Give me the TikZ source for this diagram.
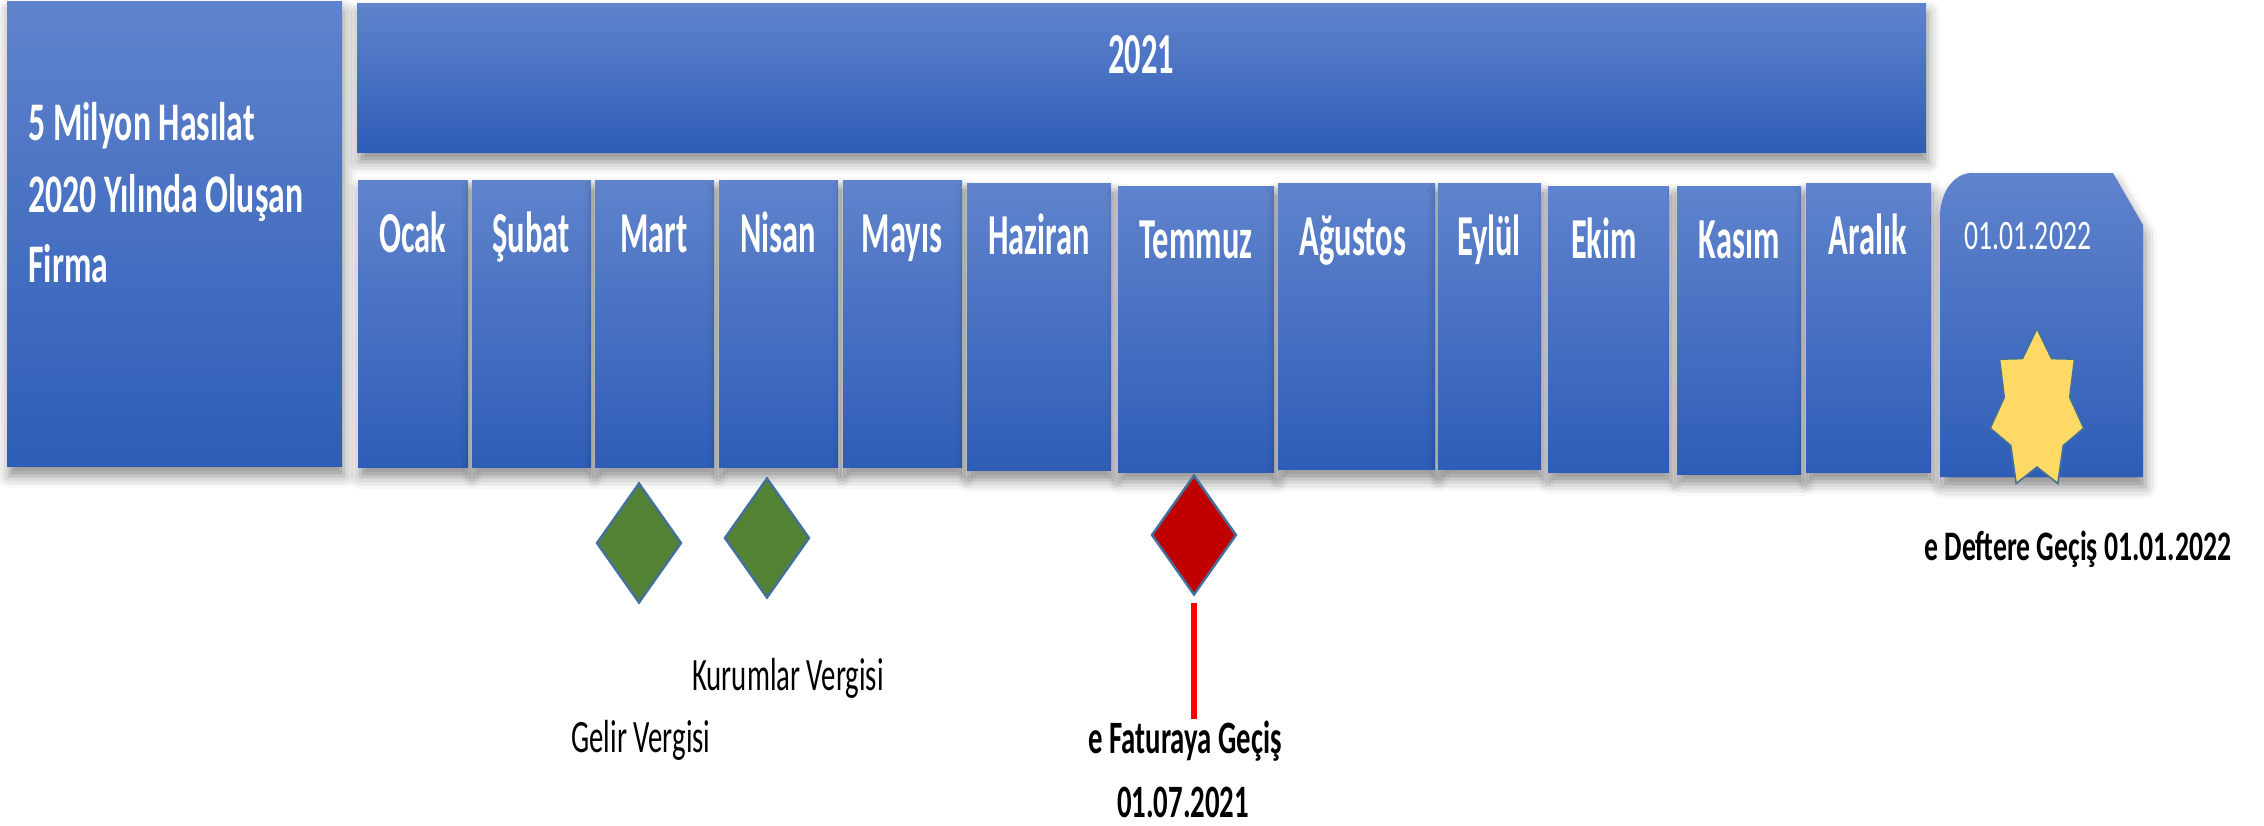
\documentclass[tikz,border=0pt]{standalone}
\usepackage{fontspec}
\setmainfont{Carlito}
\newfontfamily\monthfont[FakeStretch=0.56]{Carlito}
\newfontfamily\notefont[FakeStretch=0.62]{Carlito}
\newfontfamily\datefont[FakeStretch=0.66]{Carlito}
\usepackage{tikz}
\usetikzlibrary{shapes.geometric,fit,shadows.blur}
\definecolor{boxtop}{RGB}{96,131,204}
\definecolor{boxmid}{RGB}{64,113,203}
\definecolor{boxbot}{RGB}{46,93,183}
\definecolor{edgeblue}{RGB}{65,113,156}
\definecolor{leafgreen}{RGB}{84,130,53}
\definecolor{darkred}{RGB}{192,0,0}
\definecolor{stargold}{RGB}{255,217,102}
\tikzset{every picture/.style={line width=0.75pt}}
\tikzset{
  bluebox/.style={inner sep=0pt, top color=boxtop, middle color=boxmid, bottom color=boxbot,
    blur shadow={shadow xshift=0.5pt, shadow yshift=-2.5pt, shadow blur radius=3pt, shadow opacity=45}},
  monthtext/.style={anchor=base, inner sep=0pt, text=white, font=\monthfont\bfseries\fontsize{14.5}{17}\selectfont},
  sidetext/.style={anchor=base west, inner sep=0pt, text=white, font=\notefont\bfseries\fontsize{13.6}{17}\selectfont},
  notetext/.style={anchor=base, inner sep=0pt, text=black, font=\notefont\fontsize{11.6}{14}\selectfont},
  marker/.style={diamond, draw=edgeblue, line width=0.6pt, inner sep=0pt, minimum width=21.25pt, minimum height=30pt}
}

\begin{document}
\begin{tikzpicture}[x=0.25pt,y=0.25pt,yscale=-1,xscale=1]
\useasboundingbox (0,0) rectangle (2264,826);

%Shape: Rectangle [left]
\node[bluebox, fit={(7,1) (342,466)}] (firma) {};
%Shape: Rectangle [year]
\node[bluebox, fit={(357,3) (1926,152)}] (yil) {};

%Shape: Rectangle [months]
\node[bluebox, fit={(358,180) (468,467)}] (ocak) {};
\node[bluebox, fit={(472,180) (591,467)}] (subat) {};
\node[bluebox, fit={(595,180) (714,467)}] (mart) {};
\node[bluebox, fit={(719,180) (838,467)}] (nisan) {};
\node[bluebox, fit={(843,180) (962,467)}] (mayis) {};
\node[bluebox, fit={(967,183) (1111,470)}] (haziran) {};
\node[bluebox, fit={(1118,186) (1274,472)}] (temmuz) {};
\node[bluebox, fit={(1278,183) (1435,469)}] (agustos) {};
\node[bluebox, fit={(1438,183) (1541,469)}] (eylul) {};
\node[bluebox, fit={(1548,186) (1669,472)}] (ekim) {};
\node[bluebox, fit={(1677,186) (1801,474)}] (kasim) {};
\node[bluebox, fit={(1806,183) (1931,472)}] (aralik) {};

%Shape: Snip and round rectangle [2022]
\path[bluebox] (1940,477) -- (1940,217) .. controls (1940,192) and (1954,173) .. (1972,173) -- (2113,173) -- (2143,225) -- (2143,477) -- cycle;
%Shape: Star
\node[star, star points=7, star point ratio=1.43, minimum size=24pt, inner sep=0pt, fill=stargold, draw=edgeblue, line width=0.4pt, yscale=-1.7, transform shape] (yildiz) at (2037,410) {};

%Shape: Diamonds
\node[marker, fill=leafgreen] (gelir) at (639,543) {};
\node[marker, fill=leafgreen] (kurumlar) at (767,538) {};
\node[marker, fill=darkred] (fatura) at (1194,535) {};

% Text Node
\node[sidetext] (firma1) at (27,140) {5 Milyon Hasılat};
% Text Node
\node[sidetext] (firma2) at (27,212) {2020 Yılında Oluşan};
% Text Node
\node[sidetext] (firma3) at (27,282) {Firma};
% Text Node
\node[monthtext] (yilText) at (1141,73) {2021};

% Text Node
\node[monthtext] (ocakText) at (413,252) {Ocak};
\node[monthtext] (subatText) at (531,252) {Şubat};
\node[monthtext] (martText) at (654,252) {Mart};
\node[monthtext] (nisanText) at (778,252) {Nisan};
\node[monthtext] (mayisText) at (902,252) {Mayıs};
\node[monthtext] (haziranText) at (1039,254) {Haziran};
\node[monthtext] (temmuzText) at (1196,258) {Temmuz};
\node[monthtext] (agustosText) at (1353,255) {Ağustos};
\node[monthtext] (eylulText) at (1489,255) {Eylül};
\node[monthtext] (ekimText) at (1604,258) {Ekim};
\node[monthtext] (kasimText) at (1739,258) {Kasım};
\node[monthtext] (aralikText) at (1868,254) {Aralık};

% Text Node
\node[notetext, text=white, font=\datefont\fontsize{10.5}{13}\selectfont] (tarihText) at (2028,249) {01.01.2022};
% Text Node
\node[notetext, font=\datefont\bfseries\fontsize{10.5}{13}\selectfont] (defterText) at (2078,560) {e Deftere Geçiş 01.01.2022};
% Text Node
\node[notetext] (kurumlarText) at (788,690) {Kurumlar Vergisi};
% Text Node
\node[notetext] (gelirText) at (641,752) {Gelir Vergisi};
% Text Node
\node[notetext, font=\notefont\bfseries\fontsize{11.6}{14}\selectfont] (faturaText) at (1185,753) {e Faturaya Geçiş};
% Text Node
\node[notetext, font=\notefont\bfseries\fontsize{11.6}{14}\selectfont] (faturaTarih) at (1183,817) {01.07.2021};

%Straight Lines [red]
\draw[red, line width=1.5pt, shorten <=1.75pt] (fatura.south) -- (fatura.south |- faturaText.north);

\end{tikzpicture}
\end{document}
